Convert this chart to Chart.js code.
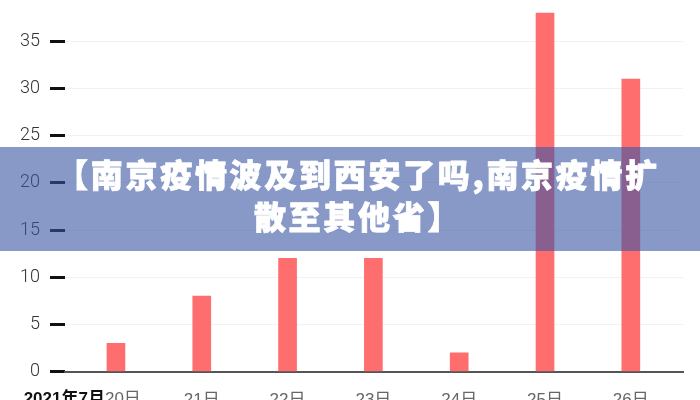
<!DOCTYPE html>
<html>
<head>
<meta charset="utf-8">
<script src="https://cdn.jsdelivr.net/npm/chart.js@4/dist/chart.umd.min.js"></script>
<style>
  html, body { margin: 0; padding: 0; background: #fff; overflow: hidden; }
  #wrap { position: relative; width: 700px; height: 400px; overflow: hidden; }
  #myChart { position: absolute; left: 0; top: -19px; }
  #banner {
    position: absolute; left: 0; top: 147px; width: 700px; height: 104px;
    background: rgba(57, 85, 164, 0.6);
    color: #fff; text-align: center;
    font-family: "Noto Sans CJK SC", sans-serif; font-weight: 900;
    font-size: 32px; line-height: 42px; letter-spacing: 2.7px;
    -webkit-text-stroke: 0.8px #fff;
    padding-top: 5px; padding-left: 16px; box-sizing: border-box;
  }
</style>
</head>
<body>
<div id="wrap">
  <canvas id="myChart" width="700" height="449"></canvas>
  <div id="banner">【南京疫情波及到西安了吗,南京疫情扩<br>散至其他省】</div>
</div>
<script>
const days = ["20日", "21日", "22日", "23日", "24日", "25日", "26日"];
const firstPrefix = "2021年7月";
const cases = [3, 8, 12, 12, 2, 38, 31];
const yTicks = [0, 5, 10, 15, 20, 25, 30, 35];

// first label: bold year/month + day, written by hand
const prefixPlugin = {
  id: "prefix",
  afterDraw(chart) {
    const ctx = chart.ctx;
    const px = chart.scales.x.getPixelForValue(0) - 11;
    const y = chart.chartArea.bottom + 19;
    ctx.save();
    ctx.textBaseline = "top";
    ctx.font = "bold 17px 'Liberation Sans', 'Noto Sans CJK SC', sans-serif";
    ctx.fillStyle = "#111";
    ctx.textAlign = "right";
    ctx.fillText(firstPrefix, px, y);
    ctx.font = "17px 'Liberation Sans', 'Noto Sans CJK SC', sans-serif";
    ctx.fillStyle = "#666";
    ctx.textAlign = "left";
    ctx.fillText(days[0], px, y);
    ctx.restore();
  }
};

const data = {
  datasets: [
    {
      label: "cases",
      backgroundColor: "#ff6e6e",
      borderWidth: 0,
      barThickness: 18,
      data: cases.map((v, i) => ({ x: i, y: v })),
    },
  ],
};

const config = {
  type: "bar",
  data: data,
  options: {
    responsive: false,
    animation: false,
    layout: { padding: { left: 10, right: 17, top: 0, bottom: 0 } },
    plugins: { legend: { display: false }, tooltip: { enabled: false } },
    scales: {
      x: {
        type: "linear",
        min: -0.594,
        max: 6.608,
        offset: false,
        afterBuildTicks: (s) => { s.ticks = days.map((d, i) => ({ value: i })); },
        grid: { display: false, drawTicks: false },
        border: { color: "#555", width: 2 },
        ticks: {
          padding: 19,
          autoSkip: false,
          maxRotation: 0,
          color: "#666",
          font: { size: 17, family: "'Liberation Sans', 'Noto Sans CJK SC', sans-serif" },
          callback: (v) => (v === 0 ? "" : days[v]),
        },
      },
      y: {
        min: 0,
        max: 39.2,
        afterBuildTicks: (s) => { s.ticks = yTicks.map((v) => ({ value: v })); },
        grid: { color: "#f2f2f2", lineWidth: 1, tickLength: 15, tickColor: "#111", tickWidth: 3 },
        border: { display: false },
        ticks: {
          padding: 10,
          color: "#333",
          font: { size: 18, family: "Roboto", weight: 300 },
        },
      },
    },
  },
  plugins: [prefixPlugin],
};

const chart = new Chart(document.getElementById("myChart"), config);
</script>
</body>
</html>
